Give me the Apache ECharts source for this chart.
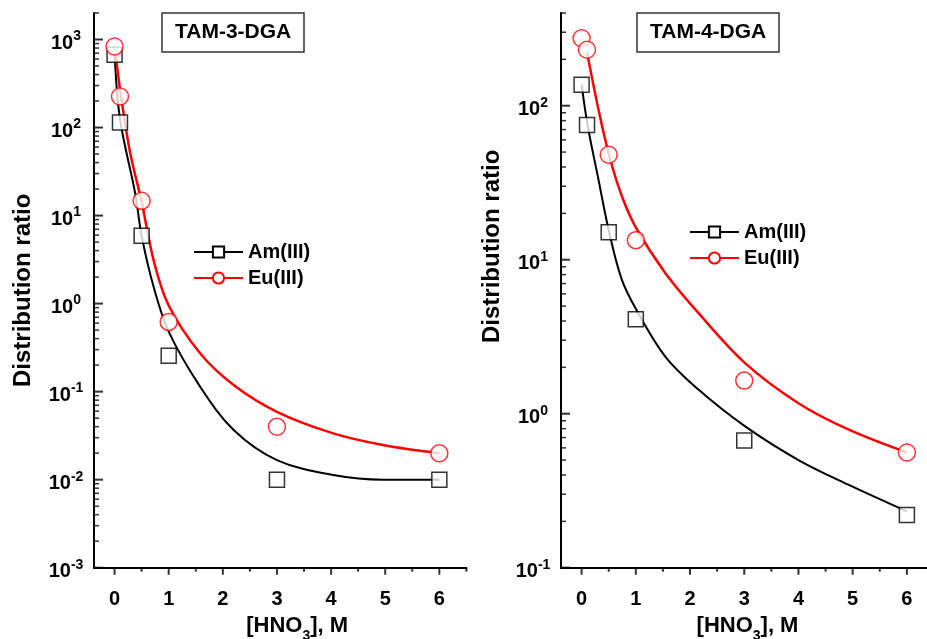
<!DOCTYPE html>
<html>
<head>
<meta charset="utf-8">
<script src="https://cdn.jsdelivr.net/npm/echarts@6/dist/echarts.min.js"></script>
<style>
html, body { margin: 0; padding: 0; background: #fff; }
#chart { width: 927px; height: 639px; }
</style>
</head>
<body>
<div id="chart"></div>
<script>
// measured points, [HNO3] in M
const xPts = [0, 0.1, 0.5, 1, 3, 6]
const am3 = [670, 114, 5.9, 0.255, 0.01, 0.01]
const eu3 = [833, 225, 14.7, 0.62, 0.04, 0.02]
const am4 = [137, 75, 15.1, 4.1, 0.67, 0.22]
const eu4 = [274, 231, 48, 13.4, 1.64, 0.56]

// fitted curves
const am3FitX = [0, 0.1, 0.38, 0.5, 0.72, 1, 1.58, 2.2, 3, 4.04, 4.96, 6]
const am3FitY = [700, 125, 18, 5.9, 1.56, 0.48, 0.114, 0.0367, 0.0167, 0.0113, 0.0100, 0.0100]
const eu3FitX = [0, 0.12, 0.29, 0.5, 0.72, 1, 1.58, 2.2, 3, 4.04, 4.96, 6]
const eu3FitY = [833, 225, 51, 14.4, 3.14, 0.95, 0.273, 0.119, 0.059, 0.0336, 0.0248, 0.02]
const am4FitX = [0, 0.11, 0.31, 0.51, 0.74, 1, 1.54, 2.15, 3.01, 4.0, 4.92, 6]
const am4FitY = [137, 75, 33.3, 15.0, 7.45, 4.8, 2.36, 1.44, 0.83, 0.50, 0.346, 0.232]
const eu4FitX = [0.1, 0.31, 0.51, 0.74, 1, 1.54, 2.15, 3.01, 4.0, 4.92, 6]
const eu4FitY = [222, 95, 47.3, 26, 16.2, 8.24, 4.53, 2.14, 1.17, 0.79, 0.56]

const panelTitles = ['TAM-3-DGA', 'TAM-4-DGA']
const xMajor = [0, 1, 2, 3, 4, 5, 6]
const xMinor = [0.5, 1.5, 2.5, 3.5, 4.5, 5.5, 6.5]
const yMajor3 = [1e-3, 1e-2, 1e-1, 1, 10, 100, 1000]
const yMajor4 = [0.1, 1, 10, 100]

const X_MIN = -0.38
const X_MAX = 6.5
const Y3 = [0.001, 2000]
const Y4 = [0.1, 400]

const FONT = '"Liberation Sans", Arial, sans-serif'

const minorLog = (lo, hi, max) => {
  const out = []
  for (let d = lo; d <= hi; d++) {
    for (let m = 2; m <= 9; m++) out.push(+(m * Math.pow(10, d)).toPrecision(3))
  }
  return out.filter(v => v <= max)
}
const yMinor3 = minorLog(-3, 3, Y3[1])
const yMinor4 = minorLog(-1, 2, Y4[1])

const zip = (xs, ys) => xs.map((x, i) => [x, ys[i]])

const pow10Label = v => {
  const e = Math.log10(v)
  return Math.abs(e - Math.round(e)) < 1e-6 ? '{b|10}{s|' + Math.round(e) + '}' : ''
}

const xAxis = (grid, namePad) => ({
  type: 'value', gridIndex: grid, min: X_MIN, max: X_MAX,
  axisLine: { show: true, onZero: false, lineStyle: { color: '#000', width: 2 } },
  axisTick: { show: false },
  axisLabel: {
    customValues: xMajor, margin: 22, color: '#000',
    fontSize: 20, fontWeight: 'bold', fontFamily: FONT
  },
  splitLine: { show: false },
  name: '{n|[HNO}{sub|3}{n|], M}',
  nameLocation: 'middle',
  nameGap: 43,
  nameTextStyle: {
    padding: namePad,
    rich: {
      n: { fontSize: 22, fontWeight: 'bold', fontFamily: FONT, color: '#000', lineHeight: 22, verticalAlign: 'top' },
      sub: { fontSize: 14, fontWeight: 'bold', fontFamily: FONT, color: '#000', lineHeight: 14, padding: [15, 0, 0, 0], verticalAlign: 'top' }
    }
  }
})

const yAxis = (grid, range, majors, nameGap, namePad) => ({
  type: 'log', gridIndex: grid, min: range[0], max: range[1],
  axisLine: { show: true, onZero: false, lineStyle: { color: '#000', width: 2 } },
  axisTick: { show: false },
  axisLabel: {
    customValues: majors, align: 'center', margin: 28,
    formatter: pow10Label,
    rich: {
      b: { fontSize: 20, fontWeight: 'bold', fontFamily: FONT, color: '#000', lineHeight: 20, padding: [4, 0, 4, 0], verticalAlign: 'top' },
      s: { fontSize: 14, fontWeight: 'bold', fontFamily: FONT, color: '#000', lineHeight: 14, verticalAlign: 'top' }
    }
  },
  splitLine: { show: false },
  name: 'Distribution ratio',
  nameLocation: 'middle',
  nameGap,
  nameTextStyle: { fontSize: 24, fontWeight: 'bold', fontFamily: FONT, color: '#000', padding: namePad }
})

const fitLine = (name, axis, data, color, width, symbol) => ({
  name, type: 'line', xAxisIndex: axis, yAxisIndex: axis,
  data, smooth: 0.35, symbol, showSymbol: false, symbolSize: 12,
  lineStyle: { color, width }, itemStyle: { color },
  emphasis: { disabled: true }, z: 2
})

const points = (name, axis, data, color, symbol, size) => ({
  name, type: 'scatter', xAxisIndex: axis, yAxisIndex: axis,
  data, symbol, symbolSize: size,
  itemStyle: { color: '#fff', borderColor: color, borderWidth: 1.5 },
  emphasis: { disabled: true }, z: 4
})

// tick marks as small filled bars placed through the axis scales
const ticks = (axis, data, size, offset) => ({
  type: 'scatter', xAxisIndex: axis, yAxisIndex: axis,
  data, symbol: 'rect', symbolSize: size, symbolOffset: offset,
  itemStyle: { color: '#000' },
  silent: true, clip: false, z: 10,
  emphasis: { disabled: true }
})

const legendBase = {
  orient: 'vertical', padding: 0, itemWidth: 49, itemHeight: 14, itemGap: 6,
  data: ['Am(III)', 'Eu(III)'],
  textStyle: { fontSize: 20, fontWeight: 'bold', fontFamily: FONT, color: '#000' },
  selectedMode: false
}

const titleBase = {
  top: 13, padding: [9, 13], borderColor: '#333', borderWidth: 1.5,
  textStyle: { fontSize: 21, fontWeight: 'bold', fontFamily: FONT, color: '#000' }
}

const chart = echarts.init(document.getElementById('chart'))

chart.setOption({
  animation: false,
  title: [
    { ...titleBase, text: panelTitles[0], left: 162 },
    { ...titleBase, text: panelTitles[1], left: 637 }
  ],
  legend: [
    { ...legendBase, left: 193, top: 242 },
    { ...legendBase, left: 689, top: 222 }
  ],
  grid: [
    { left: 94, right: 460.6, top: 13, bottom: 71.3, outerBoundsMode: 'none' },
    { left: 561, right: -7, top: 13, bottom: 71.3, outerBoundsMode: 'none' }
  ],
  xAxis: [xAxis(0, [0, 0, 0, 34]), xAxis(1, 0)],
  yAxis: [
    yAxis(0, Y3, yMajor3, 59, 0),
    yAxis(1, Y4, yMajor4, 57, [0, 0, 0, 88])
  ],
  series: [
    fitLine('Am(III)', 0, zip(am3FitX, am3FitY), '#000', 2, 'emptyRect'),
    fitLine('Eu(III)', 0, zip(eu3FitX, eu3FitY), '#f00', 2.5, 'emptyCircle'),
    points('Am(III) data', 0, zip(xPts, am3), '#000', 'rect', 15),
    points('Eu(III) data', 0, zip(xPts, eu3), '#f00', 'circle', 17),
    fitLine('Am(III)', 1, zip(am4FitX, am4FitY), '#000', 2, 'emptyRect'),
    fitLine('Eu(III)', 1, zip(eu4FitX, eu4FitY), '#f00', 2.5, 'emptyCircle'),
    points('Am(III) data', 1, zip(xPts, am4), '#000', 'rect', 15),
    points('Eu(III) data', 1, zip(xPts, eu4), '#f00', 'circle', 17),
    ticks(0, yMajor3.map(v => [X_MIN, v]), [9, 2], [4.5, 0]),
    ticks(0, yMinor3.map(v => [X_MIN, v]), [5, 1.5], [2.5, 0]),
    ticks(0, xMajor.map(v => [v, Y3[0]]), [2, 7], [0, 3.5]),
    ticks(0, xMinor.map(v => [v, Y3[0]]), [2, 4], [0, 2]),
    ticks(1, yMajor4.map(v => [X_MIN, v]), [9, 2], [4.5, 0]),
    ticks(1, yMinor4.map(v => [X_MIN, v]), [5, 1.5], [2.5, 0]),
    ticks(1, xMajor.map(v => [v, Y4[0]]), [2, 7], [0, 3.5]),
    ticks(1, xMinor.map(v => [v, Y4[0]]), [2, 4], [0, 2])
  ]
})
</script>
</body>
</html>
